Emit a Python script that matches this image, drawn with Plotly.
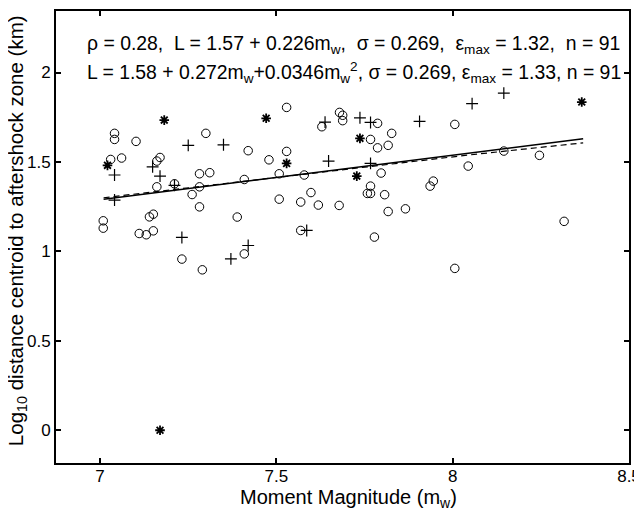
import plotly.graph_objects as go

# circles
circ_x = [7.529, 7.041, 7.041, 7.102, 7.300, 7.030, 7.061, 7.170, 7.161, 7.420,
          7.479, 7.529, 7.282, 7.311, 7.211, 7.161, 7.282, 7.261, 7.409, 7.508,
          7.579, 7.508, 7.569, 7.598, 7.282, 7.009, 7.009, 7.140, 7.151, 7.389,
          7.111, 7.131, 7.151, 7.569, 7.232, 7.290, 7.409, 7.619, 7.678, 7.629,
          7.679, 7.688, 7.688, 7.787, 7.827, 7.767, 7.787, 7.817, 7.797, 7.767,
          7.758, 7.767, 7.807, 7.817, 7.866, 7.778, 7.936, 7.945, 8.006, 8.044,
          8.145, 8.006, 8.246, 8.316]
circ_y = [1.805, 1.660, 1.626, 1.615, 1.660, 1.514, 1.522, 1.525, 1.505, 1.563,
          1.512, 1.559, 1.434, 1.440, 1.378, 1.361, 1.361, 1.318, 1.402, 1.434,
          1.427, 1.292, 1.276, 1.329, 1.249, 1.171, 1.130, 1.193, 1.208, 1.192,
          1.100, 1.093, 1.115, 1.117, 0.957, 0.897, 0.986, 1.259, 1.257, 1.697,
          1.777, 1.761, 1.731, 1.716, 1.660, 1.626, 1.579, 1.593, 1.438, 1.365,
          1.324, 1.324, 1.317, 1.223, 1.238, 1.080, 1.365, 1.393, 1.710, 1.477,
          1.561, 0.905, 1.537, 1.168]

# plus signs
plus_x = [7.250, 7.350, 7.041, 7.149, 7.170, 7.211, 7.041, 7.232, 7.371, 7.420,
          7.586, 7.638, 7.737, 7.767, 7.906, 8.055, 8.145, 7.648, 7.767]
plus_y = [1.593, 1.596, 1.427, 1.473, 1.421, 1.369, 1.287, 1.078, 0.958, 1.033,
          1.117, 1.723, 1.747, 1.721, 1.727, 1.826, 1.885, 1.505, 1.492]

# asterisks
star_x = [7.182, 7.471, 7.021, 7.529, 7.737, 7.728, 8.366, 7.170]
star_y = [1.734, 1.744, 1.481, 1.492, 1.632, 1.421, 1.835, 0.000]

# fitted lines
lin_x = [7.01, 8.37]
lin_y = [1.292, 1.630]
quad_x = [7.01, 7.35, 7.70, 8.05, 8.37]
quad_y = [1.300, 1.378, 1.462, 1.540, 1.607]

x_ticks = [7, 7.5, 8, 8.5]
x_labels = ["7", "7.5", "8", "8.5"]
y_ticks = [0, 0.5, 1, 1.5, 2]
y_labels = ["0", "0.5", "1", "1.5", "2"]

FONT = "Liberation Sans, Arial, Helvetica, sans-serif"

fig = go.Figure()
fig.add_trace(go.Scatter(x=quad_x, y=quad_y, mode="lines",
                         line=dict(color="black", width=1.2, dash="6px,4px"),
                         hoverinfo="skip"))
fig.add_trace(go.Scatter(x=lin_x, y=lin_y, mode="lines",
                         line=dict(color="black", width=1.5), hoverinfo="skip"))
fig.add_trace(go.Scatter(x=circ_x, y=circ_y, mode="markers",
                         marker=dict(symbol="circle-open", size=8.5, color="black",
                                     line=dict(color="black", width=1))))
fig.add_trace(go.Scatter(x=plus_x, y=plus_y, mode="markers",
                         marker=dict(symbol="cross-thin-open", size=8.5, color="black",
                                     line=dict(color="black", width=1.2))))
fig.add_trace(go.Scatter(x=star_x, y=star_y, mode="markers",
                         marker=dict(symbol="asterisk-open", size=8, color="black",
                                     line=dict(color="black", width=1.8))))

line1 = ("ρ = 0.28,  L = 1.57 + 0.226m<sub>w</sub>,  σ = 0.269,  "
         "ε<sub>max</sub> = 1.32,  n = 91")
line2 = ("L = 1.58 + 0.272m<sub>w</sub>+0.0346m<sub>w</sub><sup>2</sup>, σ = 0.269, "
         "ε<sub>max</sub> = 1.33, n = 91")
fig.add_annotation(x=0.051, y=0.925, xref="paper", yref="paper", text=line1,
                   showarrow=False, xanchor="left", yanchor="middle",
                   font=dict(family=FONT, size=19.4, color="black"))
fig.add_annotation(x=0.051, y=0.863, xref="paper", yref="paper", text=line2,
                   showarrow=False, xanchor="left", yanchor="middle",
                   font=dict(family=FONT, size=19.4, color="black"))

# axis titles as annotations
fig.add_annotation(x=0.51, y=-0.078, xref="paper", yref="paper",
                   text="Moment Magnitude (m<sub>w</sub>)", showarrow=False,
                   xanchor="center", yanchor="middle",
                   font=dict(family=FONT, size=20, color="black"))
fig.add_annotation(x=-0.068, y=0.513, xref="paper", yref="paper",
                   text="Log<sub>10</sub> distance centroid to aftershock zone (km)",
                   showarrow=False, textangle=-90,
                   xanchor="center", yanchor="middle",
                   font=dict(family=FONT, size=20.5, color="black"))

axis_common = dict(showline=True, linecolor="black", linewidth=2, mirror="ticks",
                   ticks="inside", ticklen=5, tickwidth=1.5, tickcolor="black",
                   showgrid=False, zeroline=False, automargin=False,
                   tickfont=dict(family=FONT, size=17, color="black"))

fig.update_xaxes(range=[6.875, 8.5], tickvals=x_ticks, ticktext=x_labels,
                 ticklabelstandoff=-3, **axis_common)
fig.update_yaxes(range=[-0.183, 2.344], tickvals=y_ticks, ticktext=y_labels,
                 **axis_common)

# the page body adds an 8px offset; size the figure so the plot area lands
# where the reference has it
fig.update_layout(width=642, height=504, showlegend=False,
                  plot_bgcolor="white", paper_bgcolor="white",
                  margin=dict(l=48, r=21, t=3, b=49))

fig.write_html("out.html")
